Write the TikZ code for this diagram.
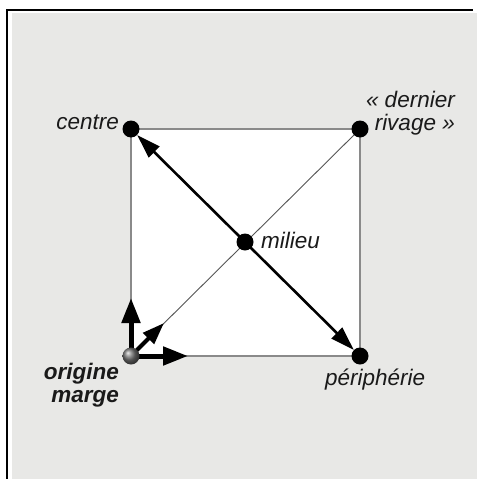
\documentclass[tikz,border=0pt]{standalone}
\usepackage{fontspec}
\setmainfont{Liberation Sans}
\usetikzlibrary{arrows.meta}
\definecolor{bgray}{HTML}{E8E8E6}
\definecolor{sqline}{HTML}{8A8A8A}
\definecolor{diag}{HTML}{555555}
\definecolor{txt}{HTML}{1A1A1A}
\begin{document}
\begin{tikzpicture}[x=1pt,y=-1pt,
  dot/.style={circle,fill=black,minimum size=17pt,inner sep=0pt},
  ball/.style={circle,shading=ball,ball color=black!55,minimum size=17pt,inner sep=0pt},
  lbl/.style={font=\fontsize{22.5}{23}\selectfont\itshape,inner sep=0pt,text=txt},
  blbl/.style={font=\fontsize{22.5}{23}\selectfont\bfseries\itshape,inner sep=0pt,text=txt},
  bigarrow/.style={line width=2.6pt,{Triangle[length=24pt,width=15pt]}-{Triangle[length=24pt,width=15pt]}},
  axisarrow/.style={line width=5pt,-{Triangle[length=25pt,width=18pt]}}]
\useasboundingbox (0,0) rectangle (478,479);
\fill[bgray] (12,13) rectangle (477,479);
\draw[line width=1.5pt] (7,479) -- (7,10) -- (473,10);
% corner positions
\coordinate (C) at (131,129);
\coordinate (D) at (360,129);
\coordinate (P) at (360,356);
\coordinate (O) at (131,356);
\coordinate (M) at (245,242);
\coordinate (up) at (131,298);
\coordinate (right) at (188,356);
\coordinate (diagtip) at (164,323);
% square
\filldraw[fill=white,draw=sqline,line width=1.4pt] (C) -- (D) -- (P) -- (O) -- cycle;
\draw[line width=0.9pt,draw=diag] (O) -- (D);
% dots
\node[dot] (c) at (C) {};
\node[dot] (d) at (D) {};
\node[dot] (p) at (P) {};
\draw[bigarrow] (c) -- (p);
\node[dot] (m) at (M) {};
% origin arrows
\draw[axisarrow] (O) -- (up);
\draw[axisarrow] (O) -- (right);
\draw[line width=4pt,-{Triangle[length=22pt,width=15pt]}] (O) -- (diagtip);
\node[ball] (o) at (O) {};
% labels
\node[lbl,anchor=base east] (lc) at (119,129) {centre};
\node[lbl,anchor=base west] (lm) at (261,248) {milieu};
\node[lbl,anchor=base west] (lp) at (325,385) {périphérie};
\node[lbl,align=right,anchor=base east] (ld) at (455,130) {«~dernier\\rivage~»};
\node[blbl,align=right,anchor=base east] (lo) at (119,402) {origine\\marge};
\end{tikzpicture}
\end{document}
